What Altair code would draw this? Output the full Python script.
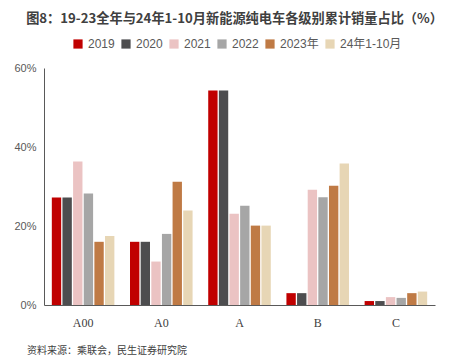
import altair as alt
import pandas as pd

categories = ["A00", "A0", "A", "B", "C"]
series = ["2019", "2020", "2021", "2022", "2023年", "24年1-10月"]
colors = ["#C00000", "#4D4D4F", "#EBC3C3", "#A6A6A6", "#BF7A45", "#E7D6B5"]

v2019 = [27.2, 16.0, 54.3, 3.0, 1.0]
v2020 = [27.2, 16.0, 54.3, 3.0, 1.0]
v2021 = [36.3, 11.0, 23.1, 29.2, 2.0]
v2022 = [28.2, 18.0, 25.1, 27.3, 1.8]
v2023 = [16.0, 31.2, 20.1, 30.2, 3.0]
v2024 = [17.5, 23.9, 20.1, 35.8, 3.4]

rows = []
for s, vals in zip(series, [v2019, v2020, v2021, v2022, v2023, v2024]):
    for c, v in zip(categories, vals):
        rows.append({"cat": c, "series": s, "value": v})
df = pd.DataFrame(rows)

bars = alt.Chart(df).mark_bar().encode(
    x=alt.X("cat:N", sort=categories, title=None,
            scale=alt.Scale(paddingInner=0.2, paddingOuter=0.1),
            axis=alt.Axis(labelAngle=0, ticks=False, domainColor="#595959",
                          labelFont="Liberation Serif", labelFontSize=12,
                          labelColor="#404040", labelPadding=12)),
    xOffset=alt.XOffset("series:N", sort=series, scale=alt.Scale(paddingInner=0.12)),
    y=alt.Y("value:Q", title=None,
            scale=alt.Scale(domain=[0, 60]),
            axis=alt.Axis(values=[0, 20, 40, 60], labelExpr="datum.value + '%'",
                          ticks=False, grid=False, domainColor="#595959",
                          labelFont="Liberation Sans", labelFontSize=11,
                          labelColor="#595959", labelPadding=8)),
    color=alt.Color("series:N", sort=series,
                    scale=alt.Scale(domain=series, range=colors),
                    legend=alt.Legend(title=None, orient="none", legendX=28, legendY=-30,
                                      direction="horizontal", columns=6,
                                      symbolType="square", symbolSize=85,
                                      symbolStrokeWidth=0, columnPadding=5,
                                      labelFont="Liberation Sans, Noto Sans CJK SC",
                                      labelFontSize=12, labelColor="#595959",
                                      labelOffset=4)),
)

src = alt.Chart(pd.DataFrame({"t": ["资料来源：乘联会，民生证券研究院"]})).mark_text(
    align="left", baseline="middle", font="Noto Sans CJK SC", fontSize=10, color="#404040"
).encode(text="t:N", x=alt.value(-17), y=alt.value(283))

chart = alt.layer(bars, src).properties(
    width=391, height=237,
    autosize=alt.AutoSizeParams(type="none"),
    padding={"left": 36, "top": 60, "right": 16, "bottom": 58},
    title=alt.Title("图8：19-23全年与24年1-10月新能源纯电车各级别累计销量占比（%）",
                    font="Noto Sans CJK SC", fontSize=13.2, fontWeight="bold",
                    color="#404040", anchor="middle", offset=12, dx=-5),
).configure_view(stroke=None)

chart.save("out.html", embed_options={"renderer": "svg", "actions": False})
